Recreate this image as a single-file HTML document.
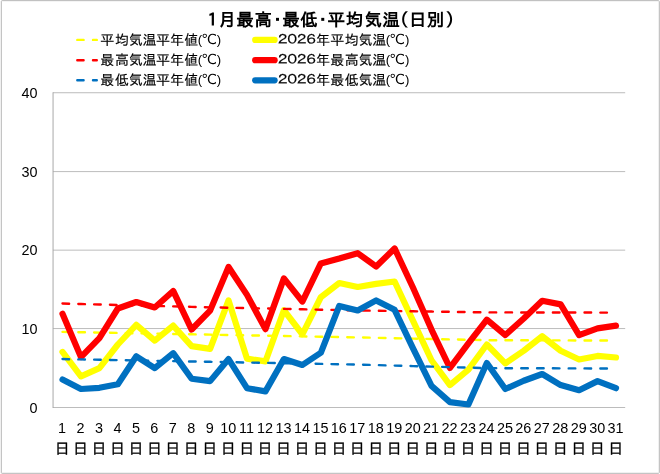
<!DOCTYPE html>
<html lang="ja">
<head>
<meta charset="utf-8">
<title>1月最高・最低・平均気温（日別）</title>
<style>
html,body{margin:0;padding:0;background:#fff;}
body{width:660px;height:474px;overflow:hidden;}
svg{display:block;}
text{fill:#000;}
.j{font-family:"Liberation Sans","IPAGothic","Noto Sans CJK JP",sans-serif;stroke:#000;stroke-width:0.15px;}
.l{font-family:"Liberation Sans",sans-serif;font-size:13.2px;stroke:none;}
.c{font-family:"Liberation Sans","DejaVu Sans","Noto Sans CJK JP",sans-serif;stroke:none;}
.ax{font-family:"Liberation Sans",sans-serif;font-size:14.4px;}
.lg{font-size:14px;}
.ttl{font-size:17.5px;font-weight:bold;stroke:none;}
.d{font-size:15px;stroke-width:0.3px;}
.dg{font-size:13.05px;stroke-width:0.2px;}
</style>
</head>
<body>
<svg width="660" height="474" viewBox="0 0 660 474">
<rect x="0" y="0" width="660" height="474" fill="#ffffff"/>
<rect x="1.3" y="0.66" width="658" height="472.64" rx="0.8" ry="0.8" fill="none" stroke="#b6b6b6" stroke-width="1"/>

<line x1="52.95" y1="92.74" x2="625.20" y2="92.74" stroke="#bcbcbc" stroke-width="1"/>
<line x1="52.95" y1="171.60" x2="625.20" y2="171.60" stroke="#bcbcbc" stroke-width="1"/>
<line x1="52.95" y1="250.15" x2="625.20" y2="250.15" stroke="#bcbcbc" stroke-width="1"/>
<line x1="52.95" y1="328.55" x2="625.20" y2="328.55" stroke="#bcbcbc" stroke-width="1"/>
<line x1="52.95" y1="407.50" x2="625.20" y2="407.50" stroke="#bcbcbc" stroke-width="1"/>
<line x1="53.05" y1="92.30" x2="53.05" y2="408.00" stroke="#a8a8a8" stroke-width="1"/>
<text class="ax" x="37.6" y="413" text-anchor="end">0</text>
<text class="ax" x="37.6" y="334" text-anchor="end">10</text>
<text class="ax" x="37.6" y="255" text-anchor="end">20</text>
<text class="ax" x="37.6" y="177" text-anchor="end">30</text>
<text class="ax" x="37.6" y="98" text-anchor="end">40</text>
<polyline points="62.50,331.90 80.95,332.24 99.40,332.59 117.85,332.93 136.30,333.28 154.75,333.62 173.20,333.97 191.65,334.31 210.10,334.66 228.55,335.00 247.00,335.35 265.45,335.69 283.90,336.03 302.35,336.38 320.80,336.72 339.25,337.07 357.70,337.41 376.15,337.81 394.60,338.20 413.05,338.59 431.50,338.99 449.95,339.38 468.40,339.77 486.85,340.17 505.30,340.23 523.75,340.28 542.20,340.34 560.65,340.39 579.10,340.45 597.55,340.51 616.00,340.56" fill="none" stroke="#ffff00" stroke-width="2.4" stroke-dasharray="6.6 9.222" stroke-linecap="round"/>
<polyline points="62.50,351.98 80.95,376.39 99.40,368.12 117.85,344.50 136.30,324.81 154.75,340.56 173.20,325.60 191.65,346.07 210.10,348.83 228.55,300.40 247.00,358.68 265.45,361.43 283.90,310.24 302.35,334.26 320.80,297.25 339.25,283.07 357.70,287.01 376.15,283.86 394.60,281.50 413.05,320.88 431.50,360.25 449.95,385.06 468.40,369.70 486.85,344.50 505.30,363.40 523.75,350.80 542.20,336.23 560.65,350.80 579.10,359.46 597.55,355.92 616.00,357.49" fill="none" stroke="#ffff00" stroke-width="6.2" stroke-linejoin="round" stroke-linecap="round"/>
<polyline points="62.50,303.55 80.95,304.02 99.40,304.50 117.85,304.97 136.30,305.44 154.75,305.91 173.20,306.38 191.65,306.86 210.10,307.33 228.55,307.72 247.00,308.12 265.45,308.51 283.90,308.90 302.35,309.30 320.80,309.69 339.25,310.09 357.70,310.48 376.15,310.75 394.60,311.02 413.05,311.29 431.50,311.56 449.95,311.83 468.40,312.10 486.85,312.37 505.30,312.40 523.75,312.44 542.20,312.47 560.65,312.50 579.10,312.54 597.55,312.57 616.00,312.61" fill="none" stroke="#ff0000" stroke-width="2.4" stroke-dasharray="6.6 9.222" stroke-linecap="round"/>
<polyline points="62.50,313.79 80.95,357.10 99.40,338.20 117.85,308.51 136.30,301.98 154.75,307.49 173.20,290.95 191.65,329.54 210.10,310.64 228.55,266.93 247.00,294.89 265.45,329.14 283.90,278.35 302.35,301.58 320.80,263.39 339.25,258.50 357.70,253.15 376.15,266.54 394.60,248.43 413.05,287.80 431.50,329.54 449.95,367.97 468.40,343.32 486.85,319.69 505.30,335.05 523.75,318.51 542.20,300.79 560.65,304.34 579.10,335.05 597.55,328.36 616.00,325.60" fill="none" stroke="#ff0000" stroke-width="6.2" stroke-linejoin="round" stroke-linecap="round"/>
<polyline points="62.50,359.07 80.95,359.41 99.40,359.76 117.85,360.10 136.30,360.45 154.75,360.79 173.20,361.14 191.65,361.48 210.10,361.82 228.55,362.17 247.00,362.51 265.45,362.86 283.90,363.20 302.35,363.55 320.80,363.89 339.25,364.24 357.70,364.58 376.15,365.09 394.60,365.59 413.05,366.10 431.50,366.61 449.95,367.11 468.40,367.62 486.85,368.12 505.30,368.18 523.75,368.24 542.20,368.29 560.65,368.35 579.10,368.41 597.55,368.46 616.00,368.52" fill="none" stroke="#0070c0" stroke-width="2.4" stroke-dasharray="6.6 9.222" stroke-linecap="round"/>
<polyline points="62.50,379.54 80.95,388.99 99.40,387.81 117.85,384.27 136.30,356.31 154.75,368.12 173.20,353.16 191.65,378.76 210.10,381.12 228.55,359.07 247.00,388.21 265.45,391.36 283.90,359.07 302.35,364.98 320.80,352.77 339.25,305.91 357.70,310.48 376.15,300.40 394.60,309.85 413.05,348.44 431.50,385.84 449.95,402.14 468.40,404.51 486.85,363.01 505.30,388.99 523.75,380.73 542.20,374.03 560.65,385.06 579.10,390.18 597.55,381.12 616.00,388.21" fill="none" stroke="#0070c0" stroke-width="6.2" stroke-linejoin="round" stroke-linecap="round"/>
<text class="ax" x="62.10" y="433" text-anchor="middle">1</text>
<text class="ax" x="80.55" y="433" text-anchor="middle">2</text>
<text class="ax" x="99.00" y="433" text-anchor="middle">3</text>
<text class="ax" x="117.45" y="433" text-anchor="middle">4</text>
<text class="ax" x="135.90" y="433" text-anchor="middle">5</text>
<text class="ax" x="154.35" y="433" text-anchor="middle">6</text>
<text class="ax" x="172.80" y="433" text-anchor="middle">7</text>
<text class="ax" x="191.25" y="433" text-anchor="middle">8</text>
<text class="ax" x="209.70" y="433" text-anchor="middle">9</text>
<text class="ax" x="228.15" y="433" text-anchor="middle">10</text>
<text class="ax" x="246.60" y="433" text-anchor="middle">11</text>
<text class="ax" x="265.05" y="433" text-anchor="middle">12</text>
<text class="ax" x="283.50" y="433" text-anchor="middle">13</text>
<text class="ax" x="301.95" y="433" text-anchor="middle">14</text>
<text class="ax" x="320.40" y="433" text-anchor="middle">15</text>
<text class="ax" x="338.85" y="433" text-anchor="middle">16</text>
<text class="ax" x="357.30" y="433" text-anchor="middle">17</text>
<text class="ax" x="375.75" y="433" text-anchor="middle">18</text>
<text class="ax" x="394.20" y="433" text-anchor="middle">19</text>
<text class="ax" x="412.65" y="433" text-anchor="middle">20</text>
<text class="ax" x="431.10" y="433" text-anchor="middle">21</text>
<text class="ax" x="449.55" y="433" text-anchor="middle">22</text>
<text class="ax" x="468.00" y="433" text-anchor="middle">23</text>
<text class="ax" x="486.45" y="433" text-anchor="middle">24</text>
<text class="ax" x="504.90" y="433" text-anchor="middle">25</text>
<text class="ax" x="523.35" y="433" text-anchor="middle">26</text>
<text class="ax" x="541.80" y="433" text-anchor="middle">27</text>
<text class="ax" x="560.25" y="433" text-anchor="middle">28</text>
<text class="ax" x="578.70" y="433" text-anchor="middle">29</text>
<text class="ax" x="597.15" y="433" text-anchor="middle">30</text>
<text class="ax" x="615.60" y="433" text-anchor="middle">31</text>
<text class="j d" x="54.65" y="454">日</text>
<text class="j d" x="73.10" y="454">日</text>
<text class="j d" x="91.55" y="454">日</text>
<text class="j d" x="110.00" y="454">日</text>
<text class="j d" x="128.45" y="454">日</text>
<text class="j d" x="146.90" y="454">日</text>
<text class="j d" x="165.35" y="454">日</text>
<text class="j d" x="183.80" y="454">日</text>
<text class="j d" x="202.25" y="454">日</text>
<text class="j d" x="220.70" y="454">日</text>
<text class="j d" x="239.15" y="454">日</text>
<text class="j d" x="257.60" y="454">日</text>
<text class="j d" x="276.05" y="454">日</text>
<text class="j d" x="294.50" y="454">日</text>
<text class="j d" x="312.95" y="454">日</text>
<text class="j d" x="331.40" y="454">日</text>
<text class="j d" x="349.85" y="454">日</text>
<text class="j d" x="368.30" y="454">日</text>
<text class="j d" x="386.75" y="454">日</text>
<text class="j d" x="405.20" y="454">日</text>
<text class="j d" x="423.65" y="454">日</text>
<text class="j d" x="442.10" y="454">日</text>
<text class="j d" x="460.55" y="454">日</text>
<text class="j d" x="479.00" y="454">日</text>
<text class="j d" x="497.45" y="454">日</text>
<text class="j d" x="515.90" y="454">日</text>
<text class="j d" x="534.35" y="454">日</text>
<text class="j d" x="552.80" y="454">日</text>
<text class="j d" x="571.25" y="454">日</text>
<text class="j d" x="589.70" y="454">日</text>
<text class="j d" x="608.15" y="454">日</text>
<text class="j ttl" y="26.1" x="203.70 218.55 236.30 254.50 268.65 282.20 300.30 314.05 327.50 345.85 364.45 382.35 390.90 409.00 426.85 445.75">１月最高・最低・平均気温（日別）</text>
<line x1="77.3" y1="39.9" x2="96.8" y2="39.9" stroke="#ffff00" stroke-width="2.4" stroke-dasharray="6.3 9.4" stroke-linecap="round"/>
<text class="j lg"><tspan x="100.25 115.05 128.80 142.55 155.95 169.90 184.15" y="44.70">平均気温平年値</tspan><tspan class="l" x="197.82" y="43.70">(</tspan><tspan class="c" x="201.30" y="43.70">℃</tspan><tspan class="l" x="216.85" y="43.70">)</tspan></text>
<line x1="255.2" y1="39.9" x2="274.6" y2="39.9" stroke="#ffff00" stroke-width="6.2" stroke-linecap="round"/>
<text class="j dg" transform="scale(1.18,1)" y="43.70" x="233.08 241.08 249.18 257.14">２０２６</text><text class="j lg"><tspan x="316.05 330.25 344.80 358.50 372.15" y="44.70">年平均気温</tspan><tspan class="l" x="385.85" y="43.70">(</tspan><tspan class="c" x="389.35" y="43.70">℃</tspan><tspan class="l" x="404.90" y="43.70">)</tspan></text>
<line x1="77.3" y1="60.2" x2="96.8" y2="60.2" stroke="#ff0000" stroke-width="2.4" stroke-dasharray="6.3 9.4" stroke-linecap="round"/>
<text class="j lg"><tspan x="100.25 114.90 128.80 142.55 155.95 169.90 184.15" y="65.00">最高気温平年値</tspan><tspan class="l" x="197.82" y="64.00">(</tspan><tspan class="c" x="201.30" y="64.00">℃</tspan><tspan class="l" x="216.85" y="64.00">)</tspan></text>
<line x1="255.2" y1="60.2" x2="274.6" y2="60.2" stroke="#ff0000" stroke-width="6.2" stroke-linecap="round"/>
<text class="j dg" transform="scale(1.18,1)" y="64.00" x="233.08 241.08 249.18 257.14">２０２６</text><text class="j lg"><tspan x="316.05 330.25 344.65 358.50 372.15" y="65.00">年最高気温</tspan><tspan class="l" x="385.85" y="64.00">(</tspan><tspan class="c" x="389.35" y="64.00">℃</tspan><tspan class="l" x="404.90" y="64.00">)</tspan></text>
<line x1="77.3" y1="80.3" x2="96.8" y2="80.3" stroke="#0070c0" stroke-width="2.4" stroke-dasharray="6.3 9.4" stroke-linecap="round"/>
<text class="j lg"><tspan x="100.25 115.00 128.80 142.55 155.95 169.90 184.15" y="85.10">最低気温平年値</tspan><tspan class="l" x="197.82" y="84.10">(</tspan><tspan class="c" x="201.30" y="84.10">℃</tspan><tspan class="l" x="216.85" y="84.10">)</tspan></text>
<line x1="255.2" y1="80.3" x2="274.6" y2="80.3" stroke="#0070c0" stroke-width="6.2" stroke-linecap="round"/>
<text class="j dg" transform="scale(1.18,1)" y="84.10" x="233.08 241.08 249.18 257.14">２０２６</text><text class="j lg"><tspan x="316.05 330.25 344.75 358.50 372.15" y="85.10">年最低気温</tspan><tspan class="l" x="385.85" y="84.10">(</tspan><tspan class="c" x="389.35" y="84.10">℃</tspan><tspan class="l" x="404.90" y="84.10">)</tspan></text>
</svg>
</body>
</html>
